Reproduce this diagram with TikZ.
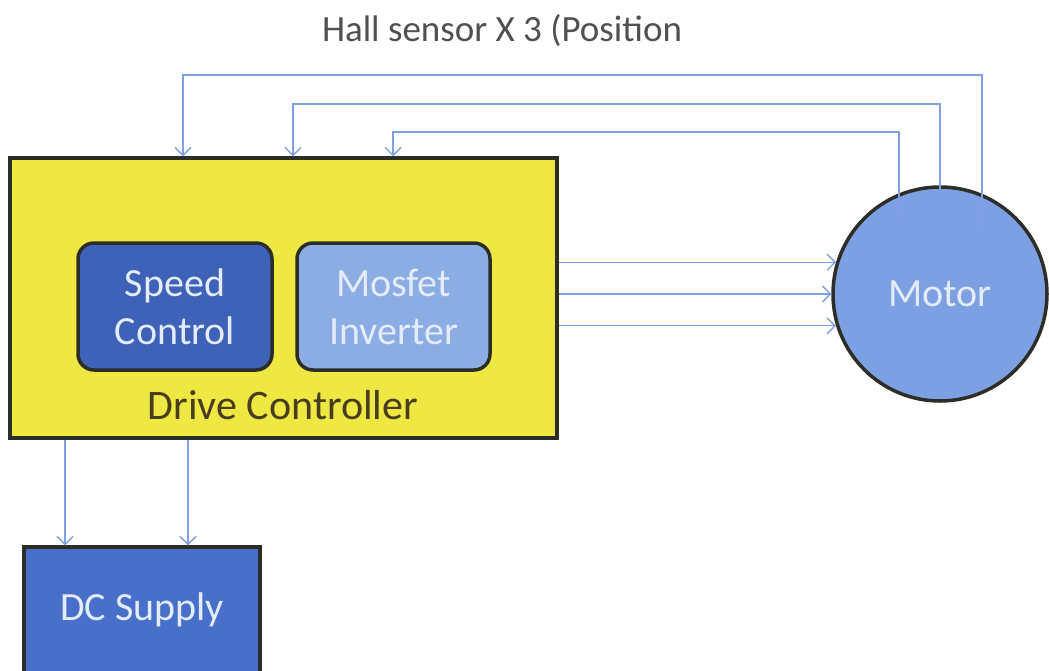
\documentclass[tikz,border=0pt]{standalone}
\usepackage{fontspec}
\setmainfont{Carlito}
\usetikzlibrary{arrows.meta}

\definecolor{boxyellow}{RGB}{240,232,66}
\definecolor{edgedark}{RGB}{45,45,40}
\definecolor{speedblue}{RGB}{62,98,184}
\definecolor{invblue}{RGB}{140,172,228}
\definecolor{motorblue}{RGB}{124,160,226}
\definecolor{supplyblue}{RGB}{72,112,202}
\definecolor{wireblue}{RGB}{128,160,228}
\definecolor{lighttext}{RGB}{228,236,250}
\definecolor{drivetext}{RGB}{72,62,30}
\definecolor{halltext}{RGB}{80,80,80}

\tikzset{
  block/.style={draw=edgedark, line width=3.5pt, inner sep=0pt},
  inner/.style={block, rounded corners=16pt, text=lighttext, align=center,
    font=\fontsize{40}{48}\selectfont},
  caption/.style={inner sep=0pt, font=\fontsize{40}{44}\selectfont},
  wire/.style={draw=wireblue, line width=1.4pt},
  arr/.style={wire, -{Straight Barb[length=8pt,width=16pt,line width=1.4pt]}},
}

\begin{document}
\begin{tikzpicture}[x=1pt, y=-1pt]
\useasboundingbox (0,0) rectangle (1049,670);
\clip (0,0) rectangle (1049,670);
\fill[white] (0,0) rectangle (1049,670);

% drive controller enclosure and its two modules
\node[block, fill=boxyellow, minimum width=547pt, minimum height=280pt]
  (drive) at (283.5,298) {};
\node[inner, fill=speedblue, minimum width=194pt, minimum height=127pt]
  (speed) at (175,306.5) {Speed\\Control};
\node[inner, fill=invblue, minimum width=193pt, minimum height=127pt]
  (inverter) at (393.5,306.5) {Mosfet\\Inverter};
\node[caption, text=drivetext, font=\fontsize{42}{46}\selectfont]
  (drivelabel) at (283,405) {Drive Controller};

% motor
\node[block, circle, fill=motorblue, minimum size=214pt, text=lighttext,
  font=\fontsize{40}{44}\selectfont] (motor) at (940,294) {Motor};

% supply
\node[block, fill=supplyblue, minimum width=236pt, minimum height=170pt]
  (dc) at (142,632) {};
\node[caption, text=lighttext] (dclabel) at (142,610) {DC Supply};

% sensor caption
\node[caption, text=halltext, font=\fontsize{37}{40}\selectfont]
  (hall) at (502,31) {Hall sensor X 3 (Position};

% hall sensor feedback lines
\coordinate (h1) at (982,226);
\coordinate (h2) at (940,190);
\coordinate (h3) at (899,217);
\draw[arr] (h1) |- (183,75) -- (183,0 |- drive.north);
\draw[arr] (h2) |- (293,104) -- (293,0 |- drive.north);
\draw[arr] (h3) |- (393,132) -- (393,0 |- drive.north);

% phase outputs to the motor
\draw[arr] (drive.east |- motor.163) -- (motor.163);
\draw[arr] (drive.east |- motor.180) -- (motor.180);
\draw[arr] (drive.east |- motor.197) -- (motor.197);

% supply connections
\draw[arr] (65,0 |- drive.south) -- (65,0 |- dc.north);
\draw[arr] (188,0 |- drive.south) -- (188,0 |- dc.north);
\end{tikzpicture}
\end{document}
